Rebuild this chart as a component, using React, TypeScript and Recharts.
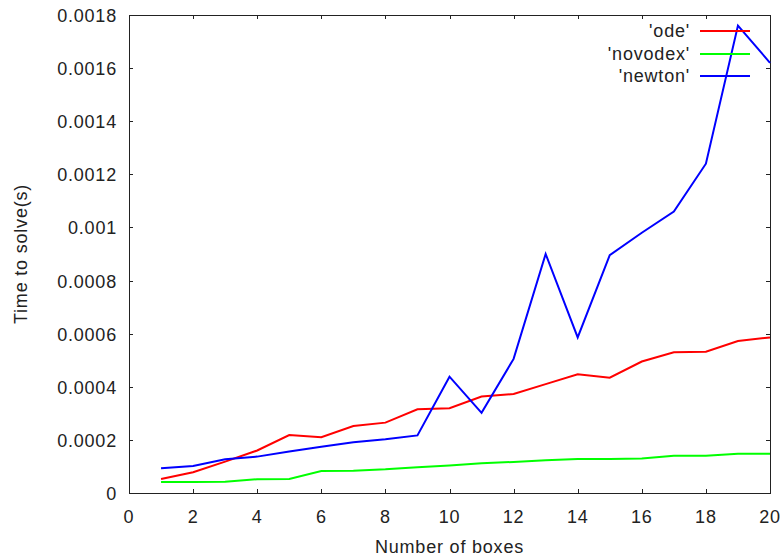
import React from 'react';
import { LineChart, Line, XAxis, YAxis, ReferenceArea } from 'recharts';

// Number of boxes vs time to solve (seconds)
const boxes = [1, 2, 3, 4, 5, 6, 7, 8, 9, 10, 11, 12, 13, 14, 15, 16, 17, 18, 19, 20];
const ode = [
  0.000053, 0.000078, 0.000118, 0.00016, 0.000218, 0.00021, 0.000252, 0.000265, 0.000315, 0.000319,
  0.000363, 0.000373, 0.00041, 0.000447, 0.000434, 0.000495, 0.00053, 0.000532, 0.000572, 0.000586,
];
const novodex = [
  0.000041, 0.000041, 0.000042, 0.000052, 0.000053, 0.000083, 0.000084, 0.000089, 0.000097, 0.000104,
  0.000112, 0.000117, 0.000123, 0.000128, 0.000128, 0.00013, 0.00014, 0.00014, 0.000148, 0.000148,
];
const newton = [
  0.000093, 0.000102, 0.000127, 0.000137, 0.000156, 0.000174, 0.000191, 0.000202, 0.000217, 0.000438,
  0.000302, 0.000505, 0.0009, 0.000586, 0.000896, 0.00098, 0.00106, 0.00124, 0.00176, 0.00162,
];

const xTicks = [0, 2, 4, 6, 8, 10, 12, 14, 16, 18, 20];
const yTicks = [0, 0.0002, 0.0004, 0.0006, 0.0008, 0.001, 0.0012, 0.0014, 0.0016, 0.0018];

const SERIES = [
  { key: 'ode', name: "'ode'", color: '#ff0000' },
  { key: 'novodex', name: "'novodex'", color: '#00ff00' },
  { key: 'newton', name: "'newton'", color: '#0000ff' },
];

const data = boxes.map((b, i) => ({ boxes: b, ode: ode[i], novodex: novodex[i], newton: newton[i] }));

const W = 784;
const H = 558;
const MARGIN = { top: 15, right: 14, left: 0, bottom: 0 };
const Y_AXIS_W = 129;
const X_AXIS_H = 65;
const PLOT_W = W - Y_AXIS_W - MARGIN.right;
const PLOT_H = H - MARGIN.top - X_AXIS_H;

const FONT = '"Liberation Sans", Arial, sans-serif';
const TEXT = '#222';
const FRAME = '#222';
const TICK = 4;

const textStyle = { fontFamily: FONT, fontSize: 18, letterSpacing: 0.8, fill: TEXT };
const htmlText: React.CSSProperties = {
  position: 'absolute',
  fontFamily: FONT,
  fontSize: 18,
  letterSpacing: 0.8,
  color: TEXT,
  lineHeight: '20px',
  whiteSpace: 'nowrap',
};

// frame and ticks are drawn as filled rects (stroked lines did not show up)
const BottomTick = ({ x, y, payload }: any) => (
  <g>
    <rect x={Math.round(x)} y={y - TICK} width={1} height={TICK} fill={FRAME} />
    <rect x={Math.round(x)} y={y - PLOT_H} width={1} height={TICK} fill={FRAME} />
    <text x={x} y={y + 30} textAnchor="middle" style={textStyle}>{payload.value}</text>
  </g>
);

const LeftTick = ({ x, y, payload }: any) => (
  <g>
    <rect x={x} y={Math.round(y)} width={TICK} height={1} fill={FRAME} />
    <rect x={x + PLOT_W - TICK} y={Math.round(y)} width={TICK} height={1} fill={FRAME} />
    <text x={x - 12} y={y + 7} textAnchor="end" style={textStyle}>{String(payload.value)}</text>
  </g>
);

const FrameShape = ({ x, y, width, height }: any) => (
  <g>
    <rect x={x} y={y} width={width + 1} height={1} fill={FRAME} />
    <rect x={x} y={y + height} width={width + 1} height={1} fill={FRAME} />
    <rect x={x} y={y} width={1} height={height + 1} fill={FRAME} />
    <rect x={x + width} y={y} width={1} height={height + 1} fill={FRAME} />
  </g>
);

export default function App() {
  return (
    <div style={{ position: 'absolute', left: 0, top: 0, width: W, height: H }}>
      <LineChart width={W} height={H} data={data} margin={MARGIN}>
        <XAxis
          dataKey="boxes"
          type="number"
          domain={[0, 20]}
          ticks={xTicks}
          height={X_AXIS_H}
          axisLine={false}
          tickLine={false}
          tickSize={0}
          tickMargin={0}
          tick={<BottomTick />}
        />
        <YAxis
          type="number"
          domain={[0, 0.0018]}
          ticks={yTicks}
          width={Y_AXIS_W}
          axisLine={false}
          tickLine={false}
          tickSize={0}
          tickMargin={0}
          tick={<LeftTick />}
        />
        {/* plot frame */}
        <ReferenceArea
          x1={0}
          x2={20}
          y1={0}
          y2={0.0018}
          ifOverflow="visible"
          shape={<FrameShape />}
        />
        {SERIES.map(s => (
          <Line
            key={s.key}
            type="linear"
            dataKey={s.key}
            stroke={s.color}
            strokeWidth={2}
            dot={false}
            isAnimationActive={false}
          />
        ))}
      </LineChart>

      {/* axis titles */}
      <div style={{ ...htmlText, left: Y_AXIS_W + PLOT_W / 2, top: 537, transform: 'translateX(-50%)' }}>
        Number of boxes
      </div>
      <div
        style={{
          ...htmlText,
          left: 21,
          top: MARGIN.top + PLOT_H / 2,
          transform: 'translate(-50%, -50%) rotate(-90deg)',
        }}
      >
        Time to solve(s)
      </div>

      {/* legend */}
      <div style={{ position: 'absolute', top: 20, left: 530, width: 220, fontFamily: FONT, fontSize: 18, letterSpacing: 0.8, color: TEXT }}>
        {SERIES.map(s => (
          <div key={s.key} style={{ display: 'flex', justifyContent: 'flex-end', alignItems: 'center', height: 22.5 }}>
            <span style={{ lineHeight: 1 }}>{s.name}</span>
            <div style={{ width: 50, height: 2, background: s.color, marginLeft: 10 }} />
          </div>
        ))}
      </div>
    </div>
  );
}
